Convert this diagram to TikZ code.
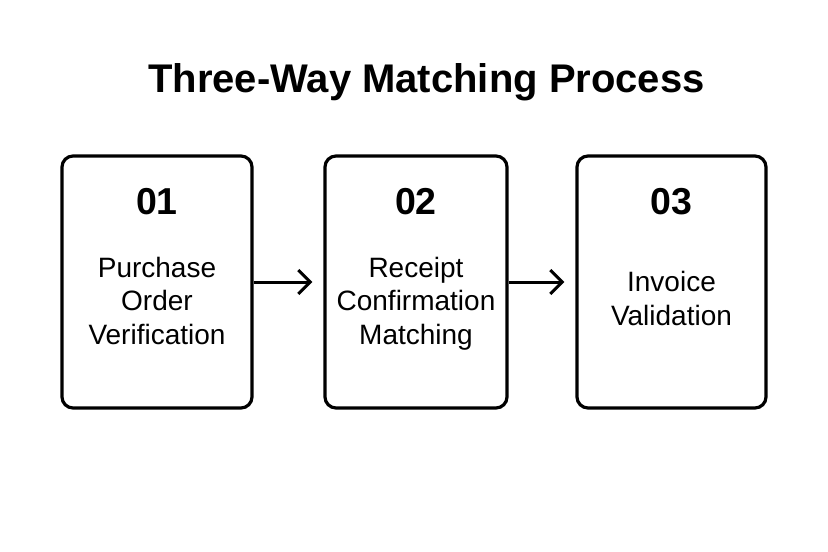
\documentclass[tikz,border=0pt]{standalone}
\usepackage{fontspec}
\setmainfont{Liberation Sans}
\usetikzlibrary{arrows.meta}

\begin{document}
\begin{tikzpicture}[x=1pt, y=-1pt,
stepbox/.style={draw=black, line width=3.2pt, rounded corners=11pt, minimum height=252pt, inner sep=0pt},
numtext/.style={anchor=base, font=\fontsize{37.5}{40}\selectfont\bfseries},
steptext/.style={anchor=base, align=center, font=\fontsize{28}{33.5}\selectfont},
flowarrow/.style={-{Straight Barb[length=12pt, width=24pt, line width=3pt]}, line width=3pt, shorten >=11pt}
]
        \useasboundingbox (0, 0) rectangle (828, 552);

        \node [anchor=base, font=\fontsize{40}{44}\selectfont\bfseries] (title) at (426.5, 92) {Three-Way Matching Process};

        \node [stepbox, minimum width=190pt] (s1) at (157, 282) {};
        \node [stepbox, minimum width=182pt] (s2) at (416, 282) {};
        \node [stepbox, minimum width=189pt] (s3) at (671.5, 282) {};

        \node [numtext] (n1) at (157, 214) {01};
        \node [numtext] (n2) at (416, 214) {02};
        \node [numtext] (n3) at (671.5, 214) {03};

        % base of a multi-line node sits on its last line
        \node [steptext] (t1) at (157, 344) {Purchase\\Order\\Verification};
        \node [steptext] (t2) at (416, 344) {Receipt\\Confirmation\\Matching};
        \node [steptext] (t3) at (671.5, 325) {Invoice\\Validation};

        \draw [flowarrow] (s1) -- (s2);
        \draw [flowarrow] (s2) -- (s3);

\end{tikzpicture}
\end{document}
